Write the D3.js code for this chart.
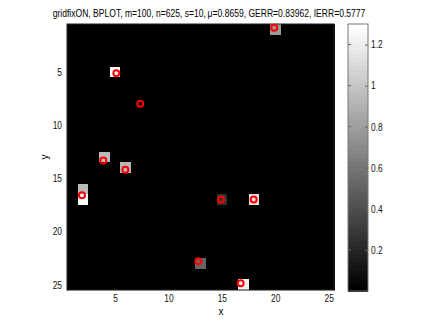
<!DOCTYPE html>
<html>
<head>
<meta charset="utf-8">
<script src="https://cdn.jsdelivr.net/npm/d3@7"></script>
<style>
  body { margin: 0; background: #fff; }
  svg { font-family: "Liberation Sans", Arial, sans-serif; font-size: 10px; }
</style>
</head>
<body>
<svg id="chart"></svg>
<script>
// non-zero cells of the 25x25 image (column, row, value)
const cellCols = [20, 5, 4, 6, 2, 2, 15, 18, 13, 17];
const cellRows = [1, 5, 13, 14, 16, 17, 17, 17, 23, 25];
const cellValues = [0.78, 1.3, 0.95, 0.93, 0.95, 1.28, 0.26, 1.13, 0.52, 1.21];

// true source positions (red circles)
const srcX = [19.9, 5.12, 7.36, 3.9, 5.96, 1.9, 14.92, 17.98, 12.8, 16.76];
const srcY = [0.85, 5.12, 7.99, 13.33, 14.2, 16.6, 17.0, 17.0, 22.8, 24.87];

const axisTicks = [5, 10, 15, 20, 25];
const cbarTicks = [0.2, 0.4, 0.6, 0.8, 1, 1.2];
const cmin = 0, cmax = 1.3, nLevels = 64;
const gridN = 25;

const svg = d3.select('#chart').attr('width', 436).attr('height', 327)

const x = d3.scaleLinear().domain([0.5, gridN + 0.5]).range([67, 334])
const y = d3.scaleLinear().domain([0.5, gridN + 0.5]).range([24, 290])
const gray = d3.scaleLinear().domain([0, nLevels - 1]).range(['#000', '#fff'])
const level = v => Math.max(0, Math.min(nLevels - 1, Math.floor((v - cmin) / (cmax - cmin) * nLevels)))

// full image grid, zero everywhere except listed cells
const cells = []
for (let r = 1; r <= gridN; r++) {
  for (let c = 1; c <= gridN; c++) cells.push({ c, r, v: 0 })
}
cellCols.forEach((c, i) => { cells[(cellRows[i] - 1) * gridN + c - 1].v = cellValues[i] })

svg.append('g').attr('shape-rendering', 'crispEdges').selectAll('rect')
.data(cells)
.enter()
.append('rect')
.attr('x', d => x(d.c - 0.5))
.attr('y', d => y(d.r - 0.5))
.attr('width', x(1.5) - x(0.5) + 0.5)
.attr('height', y(1.5) - y(0.5) + 0.5)
.attr('fill', d => gray(level(d.v)))

svg.append('rect')
.attr('x', 67).attr('y', 24).attr('width', 267).attr('height', 266)
.attr('fill', 'none').attr('stroke', '#222')

svg.append('g').selectAll('circle')
.data(srcX)
.enter()
.append('circle')
.attr('cx', d => x(d))
.attr('cy', (d, i) => y(srcY[i]))
.attr('r', 3)
.attr('fill', 'none')
.attr('stroke', '#ff0000')
.attr('stroke-width', 2)

// the reference font is narrower than Liberation Sans
const squeeze = 0.8

// axes
const xAxis = svg.append('g').attr('transform', 'translate(0,290)')
.call(d3.axisBottom(x).tickValues(axisTicks).tickSize(0).tickPadding(5))
xAxis.select('.domain').attr('stroke', '#888')
xAxis.selectAll('text').attr('font-size', 10.5).attr('font-family', null).attr('fill', '#111')
.attr('transform', `scale(${squeeze},1)`)

const yAxis = svg.append('g').attr('transform', 'translate(67,0)')
.call(d3.axisLeft(y).tickValues(axisTicks).tickSize(0).tickPadding(5))
yAxis.select('.domain').remove()
yAxis.selectAll('text').attr('font-size', 10.5).attr('font-family', null).attr('fill', '#111')
.attr('x', -5 / squeeze).attr('transform', `scale(${squeeze},1)`)

svg.append('text').attr('x', 221).attr('y', 315).attr('text-anchor', 'middle').text('x')
svg.append('text').attr('transform', 'translate(48,157) rotate(-90)').attr('text-anchor', 'middle').text('y')

svg.append('text').attr('transform', 'translate(209,17) scale(0.855,1)').attr('text-anchor', 'middle')
.text('gridfixON, BPLOT, m=100, n=625, s=10,\u2009\u03bc=0.8659, GERR=0.83962, IERR=0.5777')

// colorbar
const cb = d3.scaleLinear().domain([cmin, cmax]).range([291, 24])
const cbx = 348, cbw = 20
svg.append('g').attr('shape-rendering', 'crispEdges').selectAll('rect')
.data(d3.range(nLevels))
.enter()
.append('rect')
.attr('x', cbx)
.attr('y', d => cb(cmin + (d + 1) * (cmax - cmin) / nLevels))
.attr('width', cbw)
.attr('height', (cb(0) - cb((cmax - cmin) / nLevels)) + 0.5)
.attr('fill', d => gray(d))

svg.append('rect')
.attr('x', cbx).attr('y', 24).attr('width', cbw).attr('height', 267)
.attr('fill', 'none').attr('stroke', '#777')

const cbAxis = svg.append('g').attr('transform', `translate(${cbx + cbw},0)`)
.call(d3.axisRight(cb).tickValues(cbarTicks).tickFormat(d3.format('')).tickSize(-3).tickPadding(3))
cbAxis.select('.domain').remove()
cbAxis.selectAll('line').attr('stroke', '#666')
cbAxis.selectAll('text').attr('font-size', 10.5).attr('font-family', null).attr('fill', '#111')
.attr('x', 3 / squeeze).attr('transform', `scale(${squeeze},1)`)

svg.append('g').selectAll('line')
.data(cbarTicks)
.enter()
.append('line')
.attr('x1', cbx).attr('x2', cbx + 3)
.attr('y1', d => cb(d)).attr('y2', d => cb(d))
.attr('stroke', '#666')
</script>
</body>
</html>
